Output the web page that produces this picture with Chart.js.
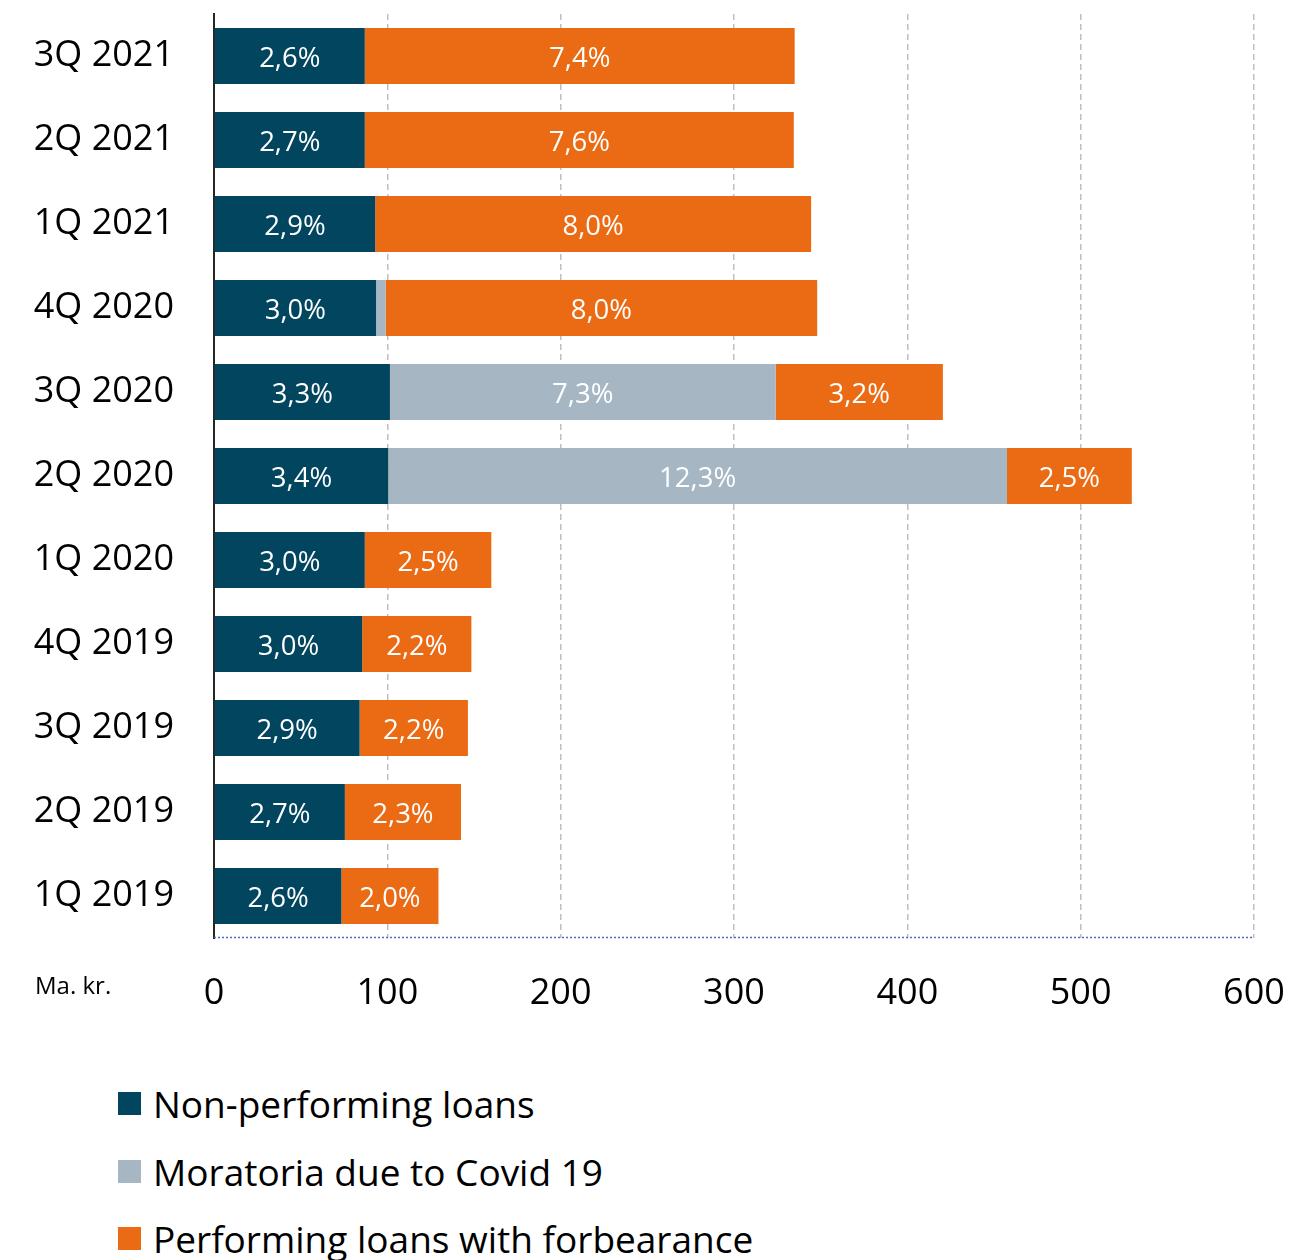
<!DOCTYPE html>
<html>
<head>
<meta charset="utf-8">
<script src="https://cdn.jsdelivr.net/npm/chart.js@4.4.1/dist/chart.umd.min.js"></script>
<style>
  html, body { margin: 0; padding: 0; background: #fff; }
  body { width: 1292px; height: 1260px; position: relative; overflow: hidden; font-family: "Open Sans", sans-serif; }
  #wrap { position: absolute; left: 0; top: 0; width: 1292px; height: 1040px; }
  #unit { position: absolute; left: 35px; top: 968px; font-size: 24px; color: #000; }
  #legend { position: absolute; left: 118px; top: 1070px; }
  .item { display: flex; align-items: center; height: 67.5px; font-size: 37px; color: #000; }
  .box { width: 23px; height: 23px; margin-right: 12px; }
</style>
</head>
<body>
<div id="wrap"><canvas id="c" width="1292" height="1040"></canvas></div>
<div id="unit">Ma. kr.</div>
<div id="legend"></div>
<script>
// Quarters, top to bottom
const quarters = ['3Q 2021','2Q 2021','1Q 2021','4Q 2020','3Q 2020','2Q 2020','1Q 2020','4Q 2019','3Q 2019','2Q 2019','1Q 2019'];

// Amounts in Ma. kr.
const nonPerforming = [87, 87, 93, 93.5, 101.5, 100.5, 87, 85.5, 84, 75.5, 73.5];
const moratoria     = [0, 0, 0, 5.5, 222.5, 357, 0, 0, 0, 0, 0];
const forbearance   = [248, 247.5, 251.5, 249, 96.5, 72, 73, 63, 62.5, 67, 56];

// Shares of the loan book printed inside each segment
const nonPerformingPct = ['2,6%','2,7%','2,9%','3,0%','3,3%','3,4%','3,0%','3,0%','2,9%','2,7%','2,6%'];
const moratoriaPct     = ['','','','','7,3%','12,3%','','','','',''];
const forbearancePct   = ['7,4%','7,6%','8,0%','8,0%','3,2%','2,5%','2,5%','2,2%','2,2%','2,3%','2,0%'];

const xTicks = [0, 100, 200, 300, 400, 500, 600];

const seriesNames = ['Non-performing loans', 'Moratoria due to Covid 19', 'Performing loans with forbearance'];
const seriesColors = ['#02455F', '#A6B7C3', '#EB6A14'];

const FONT = '"Open Sans", sans-serif';

// Writes the share text in the middle of each bar segment
const segmentLabels = {
  id: 'segmentLabels',
  afterDatasetsDraw(chart) {
    const ctx = chart.ctx;
    const texts = [nonPerformingPct, moratoriaPct, forbearancePct];
    ctx.save();
    ctx.font = '27.5px ' + FONT;
    ctx.fillStyle = '#ffffff';
    ctx.textAlign = 'center';
    ctx.textBaseline = 'middle';
    chart.data.datasets.forEach((ds, di) => {
      const meta = chart.getDatasetMeta(di);
      meta.data.forEach((bar, i) => {
        const t = texts[di][i];
        if (!t) return;
        const cx = (bar.x + bar.base) / 2;
        ctx.fillText(t, cx, bar.y + 3);
      });
    });
    ctx.restore();
  }
};

// Dotted base line along the bottom of the plot
const baseLine = {
  id: 'baseLine',
  afterDatasetsDraw(chart) {
    const { ctx, chartArea: a } = chart;
    ctx.save();
    ctx.strokeStyle = '#4472C4';
    ctx.lineWidth = 1.5;
    ctx.setLineDash([2, 2]);
    ctx.beginPath();
    ctx.moveTo(a.left, a.bottom - 0.5);
    ctx.lineTo(a.right, a.bottom - 0.5);
    ctx.stroke();
    ctx.restore();
  }
};

new Chart(document.getElementById('c'), {
  type: 'bar',
  data: {
    labels: quarters,
    datasets: [
      { label: seriesNames[0], data: nonPerforming, backgroundColor: seriesColors[0] },
      { label: seriesNames[1], data: moratoria, backgroundColor: seriesColors[1] },
      { label: seriesNames[2], data: forbearance, backgroundColor: seriesColors[2] }
    ]
  },
  options: {
    indexAxis: 'y',
    responsive: false,
    animation: false,
    devicePixelRatio: 1,
    layout: { padding: { top: 14, right: 38, left: 0, bottom: 0 } },
    datasets: { bar: { categoryPercentage: 1, barPercentage: 0.667, borderWidth: 0 } },
    plugins: { legend: { display: false }, tooltip: { enabled: false } },
    scales: {
      x: {
        stacked: true,
        min: 0, max: 600,
        afterBuildTicks(scale) { scale.ticks = xTicks.map(v => ({ value: v })); },
        afterFit(scale) {
          scale.height = 102;
          scale.paddingLeft = 0; scale.paddingRight = 0;
        },
        grid: { color: '#BFBFBF', lineWidth: 1.5, drawTicks: false },
        border: { display: false, dash: [6, 4] },
        ticks: { padding: 34, color: '#000', font: { family: FONT, size: 36 } }
      },
      y: {
        stacked: true,
        afterFit(scale) {
          scale.width = 214;
          scale.paddingTop = 0; scale.paddingBottom = 0;
        },
        grid: { display: false, drawTicks: false },
        border: { display: true, color: '#262626', width: 2 },
        ticks: { padding: 40, color: '#000', font: { family: FONT, size: 36 } }
      }
    }
  },
  plugins: [segmentLabels, baseLine]
});

// Vertical legend under the plot
const legend = document.getElementById('legend');
seriesNames.forEach((n, i) => {
  const row = document.createElement('div');
  row.className = 'item';
  const b = document.createElement('span');
  b.className = 'box';
  b.style.background = seriesColors[i];
  const t = document.createElement('span');
  t.textContent = n;
  row.appendChild(b);
  row.appendChild(t);
  legend.appendChild(row);
});
</script>
</body>
</html>
